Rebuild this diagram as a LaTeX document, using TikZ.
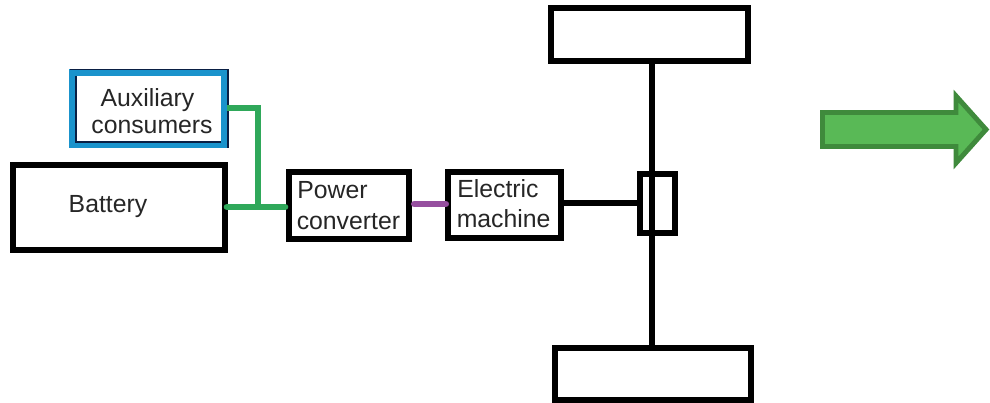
\documentclass[tikz,border=0pt]{standalone}
\usepackage{fontspec}
\setmainfont{Liberation Sans}
\definecolor{grn}{HTML}{2FA85A}
\definecolor{pur}{HTML}{964F9F}
\definecolor{blu}{HTML}{1A93CC}
\definecolor{dk}{HTML}{0A1F44}
\definecolor{afill}{HTML}{59B956}
\definecolor{aline}{HTML}{3F8A3C}
\newcommand{\pxbox}[5]{\node[#5,minimum width=#3*0.75pt,minimum height=#4*0.75pt] (#1) at (#2) {};}
\tikzset{
  x=0.75pt,y=-0.75pt,
  boxb/.style={draw=black,line width=4.5pt,fill=white,inner sep=0pt,outer sep=0pt},
  boxblue/.style={draw=blu,line width=5.2pt,fill=white,inner sep=0pt,outer sep=0pt},
  lab/.style={font=\fontsize{18.6pt}{21pt}\selectfont,inner sep=0pt,text=black!85},
  shaft/.style={draw=black,line width=4.5pt},
  bus/.style={draw=grn,line width=5pt,line cap=round},
  link/.style={draw=pur,line width=5pt,line cap=round},
  edge/.style={draw=dk,line width=0.8pt}
}
\begin{document}
\begin{tikzpicture}
\useasboundingbox[fill=white] (0,0) rectangle (990,403);
% boxes
\pxbox{top}{649.3,34.5}{196.7}{53}{boxb}
\pxbox{bot}{653.3,374}{196}{52}{boxb}
\pxbox{aux}{148.5,108.75}{152}{72.5}{boxblue}
\pxbox{bat}{118.75,207.5}{212.5}{85}{boxb}
\pxbox{conv}{349,205.5}{120}{67}{boxb}
\pxbox{mach}{504.5,205}{113}{66}{boxb}
% thin dark edge of the blue box
\coordinate (a1) at (76,76);
\coordinate (a2) at (76,142);
\coordinate (a3) at (221,142);
\coordinate (a4) at (70,69.5);
\coordinate (a5) at (228,69.5);
\coordinate (a6) at (228,148);
\draw[edge] (a1) -- (a2) -- (a3);
\draw[edge] (a4) -- (a5) -- (a6);
% axle and hub
\coordinate (hubl) at (639.5,203);
\node[draw=black,line width=4.5pt,minimum width=35*0.75pt,minimum height=59*0.75pt,inner sep=0pt,outer sep=0pt] (hub) at (657.5,203.5) {};
\coordinate (axt) at (652,61);
\coordinate (axb) at (652,348);
\draw[shaft] (axt) -- (axb);
\draw[shaft] (mach.east |- hubl) -- (hub.west |- hubl);
% electrical connectors
\coordinate (j) at (258,207);
\coordinate (ja) at (258,108);
\draw[bus,line cap=butt,line join=miter,shorten <=1.9pt] (aux.east |- ja) -- (ja) -- (j);
\draw[bus,shorten <=1.5pt,shorten >=3pt] (bat.east |- j) -- (conv.west |- j);
\coordinate (p) at (430,204);
\draw[link,shorten <=4pt,shorten >=1.7pt] (conv.east |- p) -- (mach.west |- p);
% labels
\node[lab,anchor=base] (t1) at (147.5,107) {Auxiliary};
\node[lab,anchor=base] (t2) at (152,134) {consumers};
\node[lab,anchor=base] (t3) at (108,212) {Battery};
\node[lab,anchor=base west] (t4) at (297,199) {Power};
\node[lab,anchor=base west] (t5) at (296.5,229) {converter};
\node[lab,anchor=base west] (t6) at (457,198) {Electric};
\node[lab,anchor=base west] (t7) at (456.5,227) {machine};
% big arrow
\draw[draw=aline,fill=afill,line width=3.7pt,line join=miter,miter limit=10]
  (822.5,112.5) -- (956,112.5) -- (956,96) -- (986,129.5) -- (956,163) -- (956,146.5) -- (822.5,146.5) -- cycle;
\end{tikzpicture}
\end{document}
